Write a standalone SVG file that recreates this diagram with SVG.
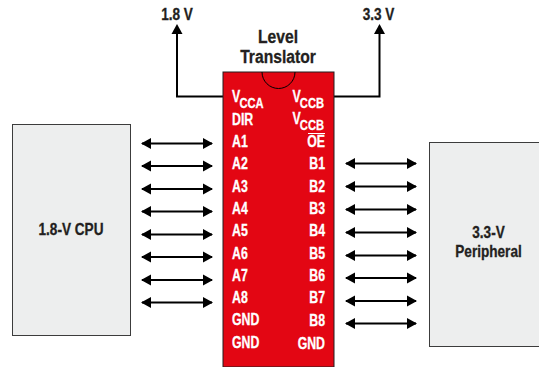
<svg xmlns="http://www.w3.org/2000/svg" width="539" height="367" viewBox="0 0 539 367">
<style>
text{font-family:"Liberation Sans",Arial,sans-serif;font-weight:700;font-size:16px;stroke-width:.3px}
.w{fill:#fff;stroke:#fff}.k{fill:#231f20;stroke:#231f20}
.m{text-anchor:middle}.e{text-anchor:end}
.s{font-size:14.500px}
.box{fill:#edeeee;stroke:#3c3c3c;stroke-width:1}
.c{fill:none;stroke:#000;stroke-width:2}
.a{marker-start:url(#h);marker-end:url(#h)}
</style>
<defs>
<marker id="h" markerUnits="userSpaceOnUse" markerWidth="11" markerHeight="12" refX="9" refY="6" orient="auto-start-reverse"><path d="M0 0.5L10 6L0 11.5Z" fill="#000"/></marker>
<marker id="u" markerUnits="userSpaceOnUse" markerWidth="12" markerHeight="12" refX="5" refY="6" orient="auto"><path d="M0 0.5L10 6L0 11.5Z" fill="#000"/></marker>
</defs>
<g id="cpu"><rect class="box" x="12.500" y="124.500" width="118" height="211"/><text class="k m" transform="translate(71 235) scale(.85 1)">1.8-V CPU</text></g>
<g id="peripheral"><rect class="box" x="429.500" y="142.500" width="110" height="204"/><text class="k m" transform="translate(488.500 238) scale(.85 1)">3.3-V</text><text class="k m" transform="translate(488.500 257) scale(.85 1)">Peripheral</text></g>
<g id="connectors">
<path class="c" d="M223 96.500H177V29" marker-end="url(#u)"/>
<path class="c" d="M334 96.500H379.500V29" marker-end="url(#u)"/>
<path class="c a" d="M142 143.500H212"/><path class="c a" d="M142 166H212"/><path class="c a" d="M142 189H212"/><path class="c a" d="M142 211.500H212"/><path class="c a" d="M142 234.500H212"/><path class="c a" d="M142 257H212"/><path class="c a" d="M142 280H212"/><path class="c a" d="M142 302.500H212"/>
<path class="c a" d="M346 163.500H416"/><path class="c a" d="M346 186.500H416"/><path class="c a" d="M346 209.500H416"/><path class="c a" d="M346 232.500H416"/><path class="c a" d="M346 255.500H416"/><path class="c a" d="M346 278H416"/><path class="c a" d="M346 301H416"/><path class="c a" d="M346 323.500H416"/>
</g>
<g id="translator">
<rect x="223" y="72" width="111" height="295" fill="#e30613" stroke="#231f20" stroke-width="1"/>
<path d="M262 72A16.500 16.500 0 0 0 295 72" fill="none" stroke="#000" stroke-width="1"/>
<text class="k m" transform="translate(278 43) scale(.87 1)" style="font-size:18px">Level</text>
<text class="k m" transform="translate(278 63) scale(.87 1)" style="font-size:18px">Translator</text>
<text class="w" transform="translate(232 102) scale(.77 1)">V<tspan class="s" dy="5.500" dx="-1">CCA</tspan></text>
<text class="w" transform="translate(232 125) scale(.77 1)">DIR</text>
<text class="w" transform="translate(232 147) scale(.77 1)">A1</text>
<text class="w" transform="translate(232 169) scale(.77 1)">A2</text>
<text class="w" transform="translate(232 192) scale(.77 1)">A3</text>
<text class="w" transform="translate(232 214) scale(.77 1)">A4</text>
<text class="w" transform="translate(232 236) scale(.77 1)">A5</text>
<text class="w" transform="translate(232 259) scale(.77 1)">A6</text>
<text class="w" transform="translate(232 281) scale(.77 1)">A7</text>
<text class="w" transform="translate(232 303) scale(.77 1)">A8</text>
<text class="w" transform="translate(232 325) scale(.77 1)">GND</text>
<text class="w" transform="translate(232 348) scale(.77 1)">GND</text>
<text class="w e" transform="translate(324 102) scale(.77 1)">V<tspan class="s" dy="5.500" dx="-1">CCB</tspan></text>
<text class="w e" transform="translate(324 124) scale(.77 1)">V<tspan class="s" dy="5.500" dx="-1">CCB</tspan></text>
<text class="w e" transform="translate(325 147) scale(.77 1)">OE</text>
<path d="M308 133.500H325" stroke="#fff" stroke-width="1"/>
<text class="w e" transform="translate(325 169) scale(.77 1)">B1</text>
<text class="w e" transform="translate(325 192) scale(.77 1)">B2</text>
<text class="w e" transform="translate(325 214) scale(.77 1)">B3</text>
<text class="w e" transform="translate(325 236) scale(.77 1)">B4</text>
<text class="w e" transform="translate(325 259) scale(.77 1)">B5</text>
<text class="w e" transform="translate(325 281) scale(.77 1)">B6</text>
<text class="w e" transform="translate(325 303) scale(.77 1)">B7</text>
<text class="w e" transform="translate(325 326) scale(.77 1)">B8</text>
<text class="w e" transform="translate(325 349) scale(.77 1)">GND</text>
</g>
<text class="k m" transform="translate(177 20) scale(.85 1)">1.8 V</text>
<text class="k m" transform="translate(378.500 20) scale(.85 1)">3.3 V</text>
</svg>
